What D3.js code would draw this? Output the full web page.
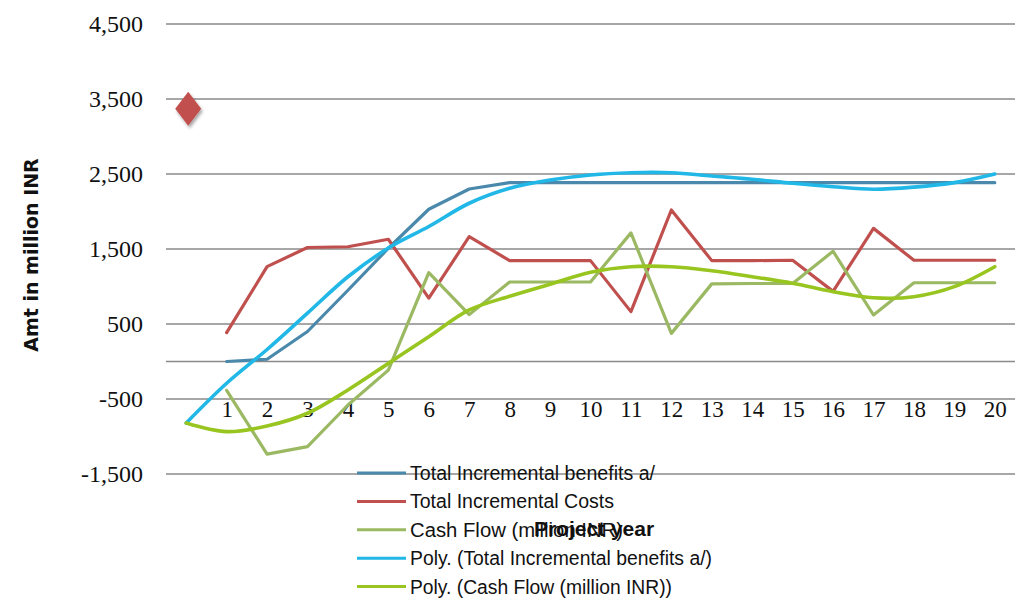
<!DOCTYPE html>
<html>
<head>
<meta charset="utf-8">
<script src="https://cdn.jsdelivr.net/npm/d3@7"></script>
<style>
  html, body { margin: 0; padding: 0; background: #fff; }
  svg { display: block; }
</style>
</head>
<body>
<svg id="chart" width="1019" height="604"></svg>
<script>
// Project years (0 = investment year, left unlabelled on the axis)
const years = [0, 1, 2, 3, 4, 5, 6, 7, 8, 9, 10, 11, 12, 13, 14, 15, 16, 17, 18, 19, 20];
const yearLabels = ["", "1", "2", "3", "4", "5", "6", "7", "8", "9", "10",
                    "11", "12", "13", "14", "15", "16", "17", "18", "19", "20"];

// Values in million INR
const benefits = [null, 0, 30, 400, 950, 1510, 2030, 2300, 2385, 2385, 2385,
                  2385, 2385, 2385, 2385, 2385, 2385, 2385, 2385, 2385, 2385];
const costs = [null, 385, 1265, 1520, 1530, 1630, 845, 1665, 1345, 1345, 1345,
               665, 2020, 1345, 1345, 1350, 935, 1775, 1350, 1350, 1350];
const investmentCost = 3370;   // year-0 cost, shown as a single marker
const cashFlow = [null, -385, -1235, -1135, -580, -115, 1185, 625, 1060, 1060, 1060,
                  1715, 375, 1035, 1040, 1040, 1470, 620, 1050, 1050, 1050];
const polyBenefits = [-820, -290, 160, 645, 1130, 1513, 1800, 2110, 2310, 2420, 2487,
                      2517, 2517, 2473, 2430, 2376, 2330, 2296, 2325, 2385, 2500];
const polyCashFlow = [-820, -935, -860, -690, -380, -25, 330, 687, 870, 1030, 1190,
                      1264, 1264, 1211, 1131, 1043, 931, 850, 864, 998, 1264];

const yTicks = [-1500, -500, 500, 1500, 2500, 3500, 4500];

const seriesInfo = [
  { name: "Total Incremental benefits a/", color: "#4a89ab" },
  { name: "Total Incremental Costs", color: "#bf504e" },
  { name: "Cash Flow (million INR)", color: "#9bb862" },
  { name: "Poly. (Total Incremental benefits a/)", color: "#21b7e6" },
  { name: "Poly. (Cash Flow (million INR))", color: "#98c520" }
];

const svg = d3.select("#chart");

const x = d3.scalePoint().domain(years).range([166, 1015]).padding(0.5);
const y = d3.scaleLinear().domain([-1500, 4500]).range([474, 24]);

// Horizontal gridlines plus the zero line
const grid = svg.append("g");
grid.selectAll("line")
  .data(yTicks.concat([0]))
  .join("line")
  .attr("x1", 166).attr("x2", 1015)
  .attr("y1", d => y(d)).attr("y2", d => y(d))
  .attr("stroke", "#8a8a8a").attr("stroke-width", 1.5);

// Y axis labels (plain hyphen for negatives)
const commas = d3.format(",");
const yAxis = d3.axisLeft(y).tickValues(yTicks).tickSize(0).tickPadding(0)
  .tickFormat(d => commas(d).replace("\u2212", "-"));
svg.append("g")
  .attr("transform", "translate(143,0)")
  .call(yAxis)
  .call(g => g.select(".domain").remove())
  .call(g => g.selectAll("text")
    .attr("font-family", "'Liberation Serif', 'DejaVu Serif', serif")
    .attr("font-size", 24)
    .attr("fill", "#111"));

// X axis labels, sitting just under the -500 gridline
const xAxis = d3.axisBottom(x).tickSize(0).tickPadding(0)
  .tickFormat((d, i) => yearLabels[i]);
svg.append("g")
  .attr("transform", `translate(0,${y(-500) + 2})`)
  .call(xAxis)
  .call(g => g.select(".domain").remove())
  .call(g => g.selectAll("text")
    .attr("font-family", "'Liberation Serif', 'DejaVu Serif', serif")
    .attr("font-size", 23)
    .attr("fill", "#111"));

// Series lines
const straight = d3.line()
  .defined(d => d.v !== null)
  .x(d => x(d.year)).y(d => y(d.v));
const smooth = d3.line()
  .defined(d => d.v !== null)
  .curve(d3.curveCatmullRom.alpha(0.5))
  .x(d => x(d.year)).y(d => y(d.v));

const toPoints = arr => years.map((yr, i) => ({ year: yr, v: arr[i] }));

const plot = svg.append("g").attr("fill", "none")
  .attr("stroke-linejoin", "round").attr("stroke-linecap", "round");

plot.append("path").datum(toPoints(benefits))
  .attr("d", straight).attr("stroke", seriesInfo[0].color).attr("stroke-width", 3.2);
plot.append("path").datum(toPoints(costs))
  .attr("d", straight).attr("stroke", seriesInfo[1].color).attr("stroke-width", 3.2);
plot.append("path").datum(toPoints(cashFlow))
  .attr("d", straight).attr("stroke", seriesInfo[2].color).attr("stroke-width", 3.2);
plot.append("path").datum(toPoints(polyBenefits))
  .attr("d", smooth).attr("stroke", seriesInfo[3].color).attr("stroke-width", 3.6);
plot.append("path").datum(toPoints(polyCashFlow))
  .attr("d", smooth).attr("stroke", seriesInfo[4].color).attr("stroke-width", 3.6);

// Year-0 investment cost marker (diamond with a soft shadow)
const defs = svg.append("defs");
const shadow = defs.append("filter").attr("id", "mshadow")
  .attr("x", "-50%").attr("y", "-50%").attr("width", "200%").attr("height", "200%");
shadow.append("feDropShadow").attr("dx", 1.5).attr("dy", 2.5)
  .attr("stdDeviation", 1.8).attr("flood-color", "#000").attr("flood-opacity", 0.35);

const mx = x(years[0]) + 2, my = y(investmentCost);
const hw = 13, hh = 17;
const dp = d3.path();
dp.moveTo(mx, my - hh); dp.lineTo(mx + hw, my); dp.lineTo(mx, my + hh); dp.lineTo(mx - hw, my); dp.closePath();
svg.append("path").attr("d", dp.toString())
  .attr("fill", "#c0504d").attr("filter", "url(#mshadow)");

// Legend
const legend = svg.append("g");
const legendRows = legend.selectAll("g").data(seriesInfo).join("g")
  .attr("transform", (d, i) => `translate(0,${473 + i * 28.4})`);
legendRows.append("line")
  .attr("x1", 357).attr("x2", 406).attr("y1", 0).attr("y2", 0)
  .attr("stroke", d => d.color).attr("stroke-width", 3);
const legendWidths = [245, 204, 213, 302, 262];
legendRows.append("text")
  .attr("x", 410).attr("y", 7)
  .attr("font-family", "'Liberation Sans Narrow', 'Liberation Sans', sans-serif")
  .attr("font-size", 20)
  .attr("fill", "#111")
  .attr("textLength", (d, i) => legendWidths[i])
  .attr("lengthAdjust", "spacingAndGlyphs")
  .text(d => d.name);

// Axis titles
svg.append("text")
  .attr("x", 594).attr("y", 536)
  .attr("text-anchor", "middle")
  .attr("font-family", "'Liberation Sans', Arial, sans-serif")
  .attr("font-weight", "bold")
  .attr("font-size", 21)
  .attr("fill", "#111")
  .text("Project year");

svg.append("text")
  .attr("transform", "translate(38,255) rotate(-90)")
  .attr("text-anchor", "middle")
  .attr("font-family", "'DejaVu Sans', Verdana, sans-serif")
  .attr("font-weight", "bold")
  .attr("font-size", 19)
  .attr("fill", "#111")
  .text("Amt in million INR");
</script>
</body>
</html>
